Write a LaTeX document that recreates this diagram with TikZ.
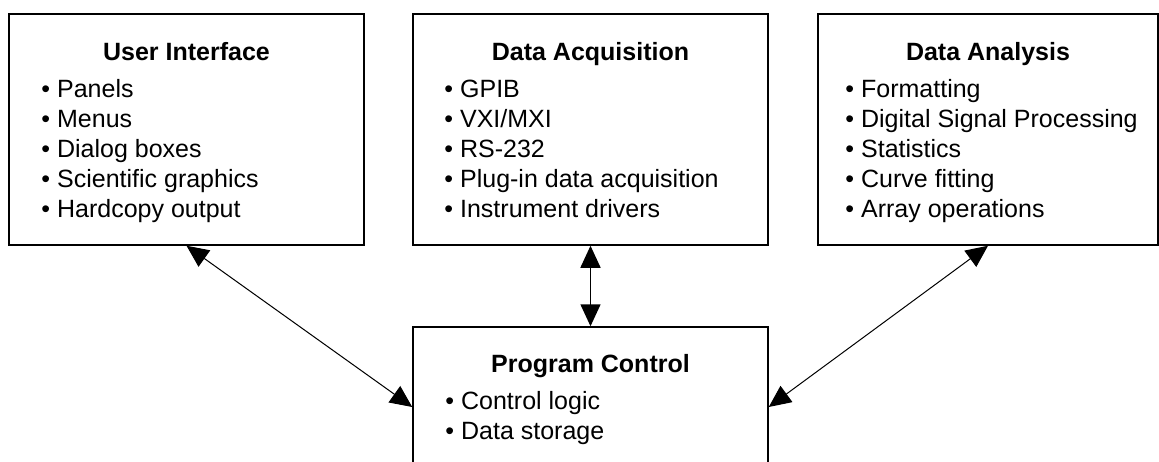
\documentclass[tikz,border=0pt]{standalone}
\usepackage{fontspec}
\setmainfont{Liberation Sans}
\usetikzlibrary{arrows.meta, positioning}

\begin{document}
\begin{tikzpicture}[
    x=1pt, y=-1pt,
    blk/.style={rectangle, draw=black, line width=1.5pt, minimum width=355pt, minimum height=231pt, inner sep=0pt},
    ttl/.style={anchor=base, inner sep=0pt, font=\fontsize{25}{30}\selectfont\bfseries},
    itm/.style={anchor=base west, inner sep=0pt, align=left, font=\fontsize{25}{30}\selectfont},
    arrow/.style={{Triangle[length=22pt, width=20pt]}-{Triangle[length=22pt, width=20pt]}, line width=1pt}
]
    \useasboundingbox (0,0) rectangle (1159,461);
    \clip (0,0) rectangle (1159,461);

    \node[blk] (ui) at (186.5,129.5) {};
    \node[blk] (daq) at (590.5,129.5) {};
    \node[blk, minimum width=340pt] (ana) at (988,129.5) {};
    \node[blk, minimum height=160pt] (ctl) at (590.5,407) {};

    % Titulos
    \node[ttl] (uiT) at ([yshift=-47pt]ui.north) {User Interface};
    \node[ttl] (daqT) at ([yshift=-47pt]daq.north) {Data Acquisition};
    \node[ttl] (anaT) at ([yshift=-47pt]ana.north) {Data Analysis};
    \node[ttl] (ctlT) at ([yshift=-46pt]ctl.north) {Program Control};

    % Itens (ancorados na ultima linha)
    \node[itm] (uiL) at ([shift={(33pt,-204pt)}]ui.north west) {• Panels\\• Menus\\• Dialog boxes\\• Scientific graphics\\• Hardcopy output};
    \node[itm] (daqL) at ([shift={(32pt,-204pt)}]daq.north west) {• GPIB\\• VXI/MXI\\• RS-232\\• Plug-in data acquisition\\• Instrument drivers};
    \node[itm] (anaL) at ([shift={(28pt,-204pt)}]ana.north west) {• Formatting\\• Digital Signal Processing\\• Statistics\\• Curve fitting\\• Array operations};
    \node[itm] (ctlL) at ([shift={(33pt,-113pt)}]ctl.north west) {• Control logic\\• Data storage};

    \draw[arrow] (ui.south) -- (ctl.west);
    \draw[arrow, line width=1.5pt] (daq.south) -- (ctl.north);
    \draw[arrow] (ana.south) -- (ctl.east);
\end{tikzpicture}
\end{document}
